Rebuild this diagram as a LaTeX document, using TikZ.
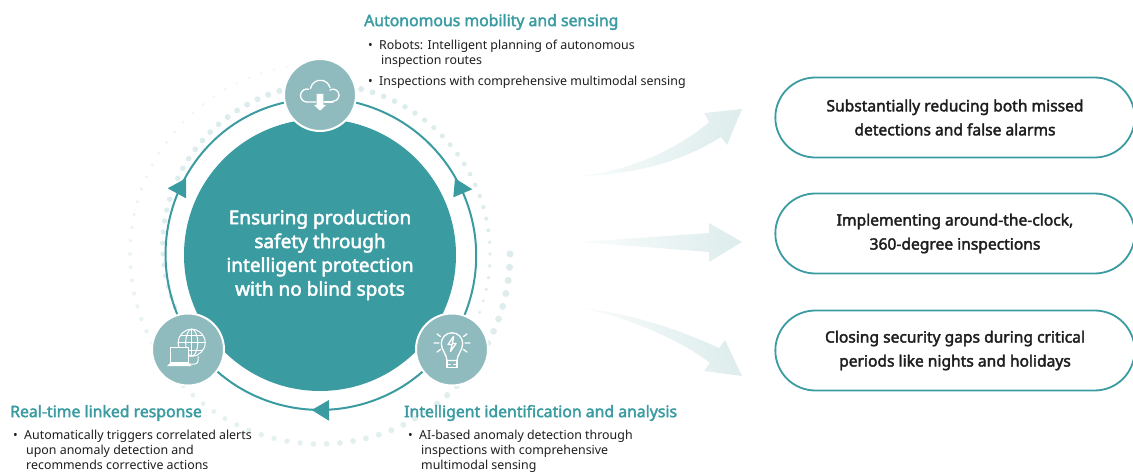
\documentclass[tikz,border=0pt]{standalone}
\usepackage{fontspec}
\setmainfont{Noto Sans}
\newfontfamily\mediumfont[FakeBold=2.4]{Noto Sans}
\newcommand{\dotitem}{\leavevmode\llap{\textbullet\hspace{6.5pt}}}
\usetikzlibrary{arrows,positioning,calc,shapes.misc}
\definecolor{teal1}{HTML}{3A9BA1}
\definecolor{hubteal}{HTML}{8FBBBE}
\definecolor{paleteal}{HTML}{DDECEC}
\definecolor{inkgray}{HTML}{1E1E1E}
\tikzstyle{goal}=[fill=teal1,circle,minimum size=272pt,inner sep=0pt,text=white,align=center,font=\mediumfont\fontsize{19}{23.8}\selectfont]
\tikzstyle{hub}=[fill=hubteal,draw=white,line width=2pt,circle,minimum size=72pt,inner sep=0pt]
\tikzstyle{loopline}=[draw=teal1,line width=2pt]
\tikzstyle{looptip}=[fill=teal1]
\tikzstyle{outcome}=[draw=teal1,line width=1.8pt,rounded rectangle,minimum width=366pt,minimum height=80pt,align=center,text=inkgray,font=\mediumfont\fontsize{15.6}{24}\selectfont]
\tikzstyle{heading}=[anchor=west,inner sep=0pt,text=teal1,font=\mediumfont\fontsize{15.8}{18}\selectfont]
\tikzstyle{entry}=[anchor=north west,inner sep=0pt,align=left,text=inkgray,font=\fontsize{12.4}{15}\selectfont]
\tikzstyle{sweep}=[left color=paleteal!15,right color=paleteal,draw=none]
\tikzstyle{icon}=[draw=white,line width=1.3pt,line cap=round,line join=round]
\begin{document}
\begin{tikzpicture}[x=1pt,y=-1pt]
\useasboundingbox (0,0) rectangle (1133,473);
\foreach \a in {0,4,...,268}{
  \pgfmathsetmacro{\dotsize}{3.6-2.4*\a/270}
  \pgfmathsetmacro{\dotmix}{100-60*\a/270}
  \fill[paleteal!\dotmix!white] ({320+190*cos(\a)},{254+190*sin(\a)}) circle[radius=\dotsize];
}
\foreach \a in {-36,-32,...,230}{
  \pgfmathsetmacro{\ringr}{\a<90 ? 152+18*(\a+36)/126 : 170}
  \pgfmathsetmacro{\dotsize}{\a<90 ? 2.3+0.9*(\a+36)/126 : 3.2-2.0*(\a-90)/140}
  \fill[paleteal] ({320-\ringr*cos(\a)},{254-\ringr*sin(\a)}) circle[radius=\dotsize];
}
\node[goal] (goal) at (320,255) {Ensuring production\\safety through\\intelligent protection\\with no blind spots};
\node[hub] (cloud) at (320,95) {};
\node[hub] (bulb) at (452,349.5) {};
\node[hub] (web) at (188,349.5) {};
\draw[loopline] (cloud.-12) to[out=-14,in=68,looseness=1.03] (bulb.70);
\draw[loopline] (bulb.217) to[out=-139,in=-41,looseness=.97] (web.-37);
\draw[loopline] (web.107) to[out=112,in=193,looseness=1.03] (cloud.192);
\fill[looptip] (453.3,197.3) -- (455,178.3) -- (472.3,189.3) -- cycle;
\fill[looptip] (167.7,188.3) -- (186,178.3) -- (186,198.3) -- cycle;
\fill[looptip] (311.7,410) -- (329,400) -- (329,420.7) -- cycle;
\begin{scope}[shift={(320,95)},y=1pt]
\draw[icon] (-4,-7) -- (-13,-7) arc[start angle=270,end angle=75,radius=6.5];
\draw[icon] (-9.5,6.5) arc[start angle=170,end angle=15,radius=10];
\draw[icon] (10,5) arc[start angle=120,end angle=-90,radius=6];
\draw[icon] (13,-7) -- (4,-7);
\fill[white] (-3.3,1) -- (3.3,1) -- (3.3,-10) -- (6,-10) -- (0,-15.7) -- (-6,-10) -- (-3.3,-10) -- cycle;
\end{scope}
\begin{scope}[shift={(188,349.5)},y=1pt]
\draw[icon,line width=1pt] (3.7,6.8) circle[radius=13.5];
\draw[icon,line width=1pt] (3.7,6.8) ellipse[x radius=6,y radius=13.5];
\draw[icon,line width=1pt] (3.7,20.3) -- (3.7,-6.7) (-9.8,6.8) -- (17.2,6.8) (-7,14.5) -- (14.4,14.5) (-7,-.9) -- (14.4,-.9);
\draw[icon,fill=hubteal] (-17.3,1.8) rectangle (.3,-13);
\fill[white] (-17.3,-13) -- (.3,-13) -- (3.7,-16.5) -- (-21,-16.5) -- cycle;
\draw[icon,line width=1pt] (.3,-14.5) -- (7,-14.5) .. controls (11,-14.5) and (10,-9) .. (10,-7);
\end{scope}
\begin{scope}[shift={(452,349.5)},y=1pt]
\draw[icon] (-5,-11) .. controls (-5,-5) and (-10.7,-1) .. (-10.7,6) arc[start angle=180,end angle=0,radius=10.7] .. controls (10.7,-1) and (5,-5) .. (5,-11) -- cycle;
\draw[icon] (-5,-11) rectangle (5,-18);
\draw[icon,line width=1pt] (-5,-14.5) -- (-1.5,-14.5) (1.5,-14.5) -- (5,-14.5);
\draw[icon] (1.5,13) -- (-4,5) -- (0,5) -- (-1.5,-2) -- (4,6) -- (.5,6) -- cycle;
\draw[icon] (-18,6.5) -- (-13,6.5) (13,6.5) -- (18,6.5) (-15,15.5) -- (-11.5,13) (15,15.5) -- (11.5,13) (-15,-2.5) -- (-11.5,0) (15,-2.5) -- (11.5,0);
\end{scope}
\shade[sweep,shading angle=70] (581,176) .. controls (640,169) and (685,143) .. (709,122) -- (704,113) -- (742,109) -- (727,145) -- (721,137) .. controls (680,163) and (630,175) .. cycle;
\shade[sweep] (581,242) -- (709,233) -- (709,223) -- (742,242) -- (709,262) -- (709,252) -- cycle;
\shade[sweep,shading angle=110] (581,308) .. controls (630,313) and (680,330) .. (719,348) -- (725,340) -- (742,376) -- (704,371) -- (710,363) .. controls (680,340) and (630,318) .. cycle;
\node[outcome] (missed) at (955,117.5) {Substantially reducing both missed\\detections and false alarms};
\node[outcome] (clock) at (955,233.5) {Implementing around-the-clock,\\360-degree inspections};
\node[outcome] (gaps) at (955,350.5) {Closing security gaps during critical\\periods like nights and holidays};
\node[heading] (mobility) at (364,22) {Autonomous mobility and sensing};
\node[entry] (robots) at (379,40) {\dotitem Robots: Intelligent planning of autonomous\\\hspace{2pt}inspection routes};
\node[entry,below=8pt of robots.south west,anchor=north west] (multimodal) {\dotitem Inspections with comprehensive multimodal sensing};
\node[heading] (response) at (10,413) {Real-time linked response};
\node[entry] (alerts) at (24,430) {\dotitem Automatically triggers correlated alerts\\\hspace{2pt}upon anomaly detection and\\\hspace{2pt}recommends corrective actions};
\node[heading] (analysis) at (404,413) {Intelligent identification and analysis};
\node[entry] (anomaly) at (419,430) {\dotitem AI-based anomaly detection through\\\hspace{2pt}inspections with comprehensive\\\hspace{2pt}multimodal sensing};
\end{tikzpicture}
\end{document}
